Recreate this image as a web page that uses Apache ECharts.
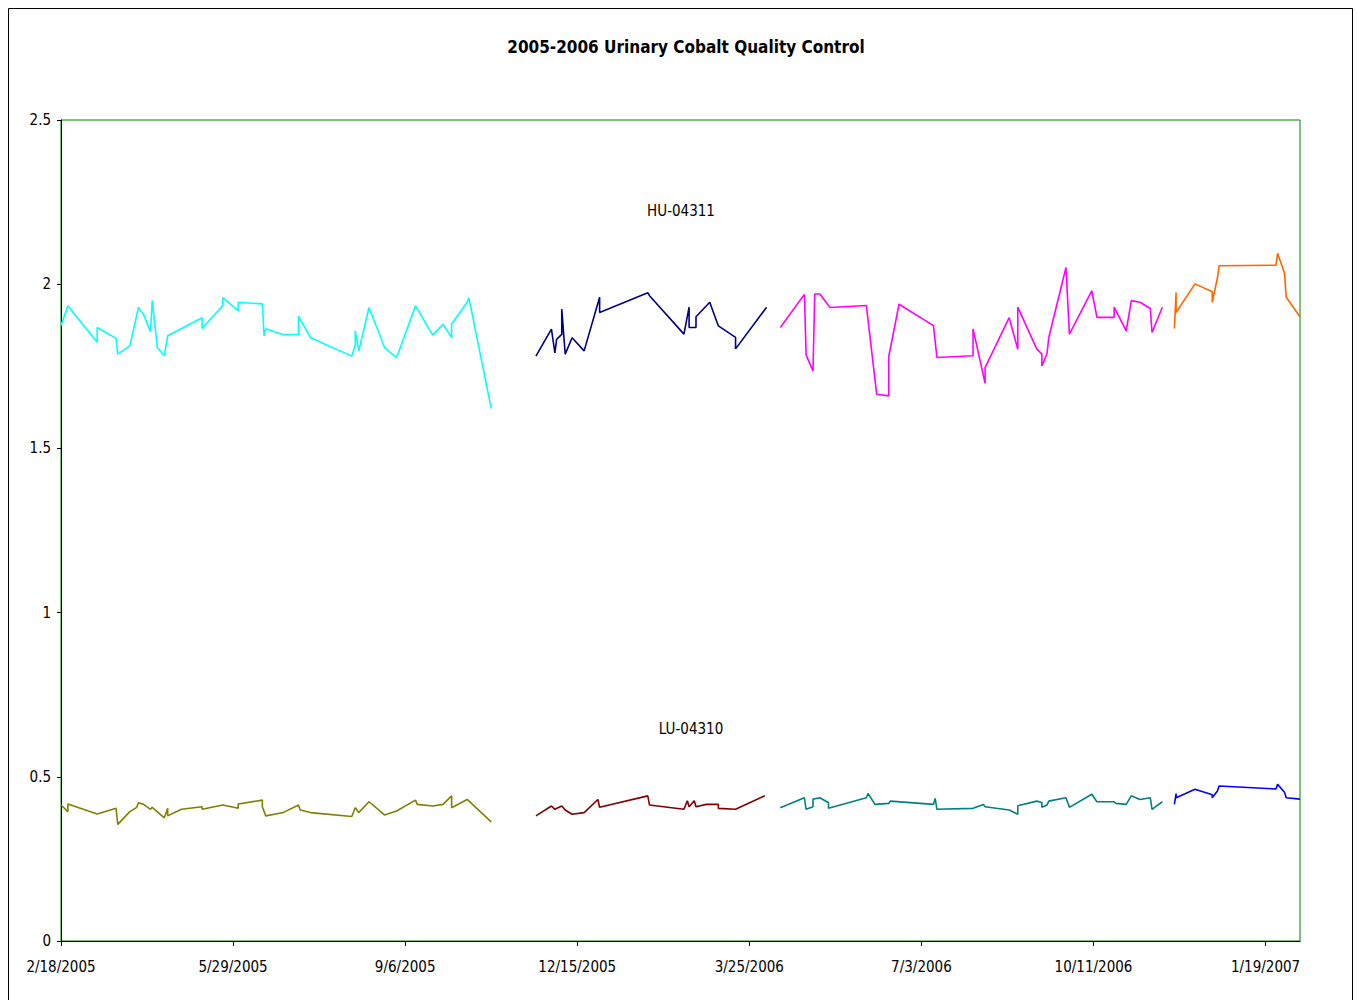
<!DOCTYPE html>
<html><head><meta charset="utf-8">
<script src="https://cdn.jsdelivr.net/npm/echarts@6/dist/echarts.min.js"></script>
<style>html,body{margin:0;padding:0;background:#fff}#c{width:1357px;height:1000px}</style>
</head><body><div id="c"></div>
<script>
// ---- Data ----
const chartTitle = '2005-2006 Urinary Cobalt Quality Control';
const startDate = '2005-02-18';
const xTickDays = [0, 100, 200, 300, 400, 500, 600, 700];
const xMaxDay = 720;
const yTicks = [0, 0.5, 1, 1.5, 2, 2.5];
const huLabel = 'HU-04311';
const luLabel = 'LU-04310';

const hu1Dates = ['2005-02-18','2005-02-22','2005-03-11','2005-03-11','2005-03-22','2005-03-23','2005-03-30','2005-04-04','2005-04-07','2005-04-11','2005-04-12','2005-04-15','2005-04-19','2005-04-21','2005-05-11','2005-05-11','2005-05-23','2005-05-23','2005-06-01','2005-06-01','2005-06-15','2005-06-16','2005-06-17','2005-06-25','2005-06-27','2005-07-06','2005-07-06','2005-07-13','2005-08-06','2005-08-08','2005-08-08','2005-08-10','2005-08-16','2005-08-25','2005-09-01','2005-09-12','2005-09-22','2005-09-28','2005-10-03','2005-10-03','2005-10-12','2005-10-13','2005-10-26'];
const hu1Values = [1.874,1.934,1.823,1.868,1.835,1.787,1.812,1.929,1.908,1.855,1.950,1.807,1.782,1.843,1.898,1.865,1.935,1.959,1.919,1.945,1.940,1.843,1.864,1.850,1.847,1.847,1.903,1.837,1.781,1.815,1.858,1.797,1.929,1.807,1.776,1.934,1.845,1.878,1.838,1.879,1.945,1.959,1.622];

const hu2Dates = ['2005-11-21','2005-11-30','2005-12-02','2005-12-03','2005-12-06','2005-12-06','2005-12-08','2005-12-12','2005-12-19','2005-12-28','2005-12-28','2006-01-25','2006-01-26','2006-02-15','2006-02-18','2006-02-18','2006-02-22','2006-02-22','2006-03-02','2006-03-07','2006-03-17','2006-03-17','2006-04-04'];
const hu2Values = [1.781,1.863,1.791,1.832,1.847,1.924,1.787,1.837,1.797,1.960,1.914,1.974,1.965,1.848,1.930,1.868,1.868,1.901,1.945,1.873,1.838,1.803,1.930];

const hu3Dates = ['2006-04-12','2006-04-26','2006-04-27','2006-05-01','2006-05-02','2006-05-05','2006-05-10','2006-05-11','2006-06-01','2006-06-07','2006-06-14','2006-06-14','2006-06-20','2006-07-10','2006-07-11','2006-07-12','2006-08-02','2006-08-02','2006-08-09','2006-08-09','2006-08-23','2006-08-28','2006-08-28','2006-09-08','2006-09-11','2006-09-11','2006-09-14','2006-09-15','2006-09-25','2006-09-27','2006-10-10','2006-10-13','2006-10-23','2006-10-23','2006-10-30','2006-11-02','2006-11-07','2006-11-13','2006-11-14','2006-11-20'];
const hu3Values = [1.868,1.969,1.784,1.736,1.970,1.970,1.935,1.929,1.935,1.665,1.660,1.779,1.939,1.874,1.825,1.777,1.782,1.864,1.698,1.746,1.898,1.802,1.930,1.803,1.787,1.751,1.789,1.837,2.051,1.848,1.980,1.899,1.899,1.930,1.858,1.950,1.945,1.926,1.853,1.930];

const hu4Dates = ['2006-11-27','2006-11-28','2006-11-28','2006-12-09','2006-12-19','2006-12-19','2006-12-22','2006-12-23','2007-01-25','2007-01-26','2007-01-30','2007-01-31','2007-02-08'];
const hu4Values = [1.865,1.975,1.914,2.001,1.977,1.945,2.018,2.056,2.058,2.094,2.033,1.960,1.901];

const lu1Dates = ['2005-02-18','2005-02-22','2005-02-22','2005-03-11','2005-03-22','2005-03-23','2005-03-30','2005-04-03','2005-04-04','2005-04-07','2005-04-11','2005-04-12','2005-04-19','2005-04-21','2005-04-21','2005-04-29','2005-05-11','2005-05-11','2005-05-23','2005-06-01','2005-06-01','2005-06-15','2005-06-15','2005-06-17','2005-06-25','2005-06-27','2005-07-06','2005-07-07','2005-07-13','2005-08-06','2005-08-08','2005-08-10','2005-08-16','2005-08-25','2005-09-01','2005-09-12','2005-09-13','2005-09-22','2005-09-28','2005-10-03','2005-10-03','2005-10-12','2005-10-26'];
const lu1Values = [0.414,0.394,0.417,0.387,0.404,0.355,0.394,0.407,0.421,0.416,0.401,0.407,0.375,0.404,0.381,0.401,0.409,0.401,0.414,0.404,0.417,0.429,0.409,0.381,0.389,0.391,0.414,0.399,0.391,0.379,0.406,0.391,0.424,0.384,0.396,0.429,0.416,0.411,0.416,0.442,0.406,0.431,0.363];

const lu2Dates = ['2005-11-21','2005-11-30','2005-12-02','2005-12-06','2005-12-08','2005-12-12','2005-12-19','2005-12-27','2005-12-28','2006-01-25','2006-01-26','2006-02-15','2006-02-17','2006-02-18','2006-02-21','2006-02-22','2006-02-28','2006-03-07','2006-03-07','2006-03-17','2006-04-03'];
const lu2Values = [0.381,0.411,0.401,0.411,0.399,0.386,0.391,0.431,0.407,0.442,0.414,0.401,0.427,0.409,0.427,0.409,0.416,0.416,0.404,0.401,0.442];

const lu3Dates = ['2006-04-12','2006-04-26','2006-04-27','2006-05-01','2006-05-01','2006-05-05','2006-05-10','2006-05-10','2006-06-01','2006-06-02','2006-06-06','2006-06-14','2006-06-15','2006-07-10','2006-07-11','2006-07-12','2006-08-02','2006-08-08','2006-08-09','2006-08-23','2006-08-28','2006-08-28','2006-09-08','2006-09-11','2006-09-11','2006-09-14','2006-09-15','2006-09-25','2006-09-27','2006-10-10','2006-10-13','2006-10-23','2006-10-24','2006-10-30','2006-11-02','2006-11-07','2006-11-13','2006-11-14','2006-11-20'];
const lu3Values = [0.406,0.436,0.401,0.409,0.432,0.436,0.421,0.404,0.436,0.449,0.416,0.419,0.426,0.416,0.434,0.401,0.404,0.416,0.409,0.399,0.386,0.412,0.426,0.422,0.407,0.414,0.426,0.436,0.407,0.447,0.424,0.424,0.419,0.416,0.442,0.431,0.436,0.401,0.424];

const lu4Dates = ['2006-11-27','2006-11-28','2006-11-28','2006-12-09','2006-12-19','2006-12-19','2006-12-22','2006-12-23','2007-01-25','2007-01-26','2007-01-30','2007-01-31','2007-02-08'];
const lu4Values = [0.416,0.449,0.436,0.462,0.445,0.436,0.457,0.472,0.463,0.477,0.453,0.436,0.432];

// ---- Build ----
const FONT = "'Liberation Sans Narrow', 'DejaVu Sans Condensed', 'Liberation Sans', sans-serif";
function parseUTC(s){const p=s.split('-').map(Number);return Date.UTC(p[0],p[1]-1,p[2]);}
const t0 = parseUTC(startDate);
function toDay(s){return Math.round((parseUTC(s)-t0)/86400000);}
function dayLabel(d){const dt=new Date(t0+d*86400000);return (dt.getUTCMonth()+1)+'/'+dt.getUTCDate()+'/'+dt.getUTCFullYear();}

const seriesDefs = [
  {name:'HU 1', dates:hu1Dates, values:hu1Values, color:'#00FFFF'},
  {name:'HU 2', dates:hu2Dates, values:hu2Values, color:'#000080'},
  {name:'HU 3', dates:hu3Dates, values:hu3Values, color:'#FF00FF'},
  {name:'HU 4', dates:hu4Dates, values:hu4Values, color:'#FF6600'},
  {name:'LU 1', dates:lu1Dates, values:lu1Values, color:'#808000'},
  {name:'LU 2', dates:lu2Dates, values:lu2Values, color:'#800000'},
  {name:'LU 3', dates:lu3Dates, values:lu3Values, color:'#008080'},
  {name:'LU 4', dates:lu4Dates, values:lu4Values, color:'#0000FF'}
];

const chart = echarts.init(document.getElementById('c'), null, {renderer:'svg'});
chart.setOption({
  animation:false,
  backgroundColor:'#fff',
  title:{text:chartTitle, left:681, top:33, textAlign:'center',
    textStyle:{fontFamily:FONT, fontSize:17, fontWeight:'bold', color:'#000'}},
  grid:{left:61, right:57, top:120, bottom:59, show:true, borderColor:'#008000', borderWidth:1, backgroundColor:'transparent'},
  xAxis:{type:'value', min:0, max:xMaxDay,
    axisLine:{show:true, onZero:false, lineStyle:{color:'#000', width:1}},
    axisTick:{show:true, customValues:xTickDays, length:5, lineStyle:{color:'#000'}},
    axisLabel:{customValues:xTickDays, formatter:function(v){return dayLabel(v);}, fontFamily:FONT, fontSize:15, color:'#000', margin:18},
    splitLine:{show:false}},
  yAxis:{type:'value', min:yTicks[0], max:yTicks[yTicks.length-1], interval:0.5,
    axisLine:{show:true, lineStyle:{color:'#000', width:1}},
    axisTick:{show:true, length:4, lineStyle:{color:'#000'}},
    axisLabel:{fontFamily:FONT, fontSize:15, color:'#000', margin:10},
    splitLine:{show:false}},
  graphic:[
    {type:'rect', silent:true, z:-1, shape:{x:8.5, y:8.5, width:1344, height:1000}, style:{fill:'none', stroke:'#000', lineWidth:1}},
    {type:'text', x:681, y:211, style:{text:huLabel, fontFamily:FONT, fontSize:15, fill:'#000', textAlign:'center', textVerticalAlign:'middle'}},
    {type:'text', x:691, y:729, style:{text:luLabel, fontFamily:FONT, fontSize:15, fill:'#000', textAlign:'center', textVerticalAlign:'middle'}}
  ],
  series: seriesDefs.map(function(s){
    return {name:s.name, type:'line', showSymbol:false, symbol:'none',
      lineStyle:{color:s.color, width:1.6}, itemStyle:{color:s.color},
      data:s.dates.map(function(d,i){return [toDay(d), s.values[i]];})};
  })
});
</script>
</body></html>
